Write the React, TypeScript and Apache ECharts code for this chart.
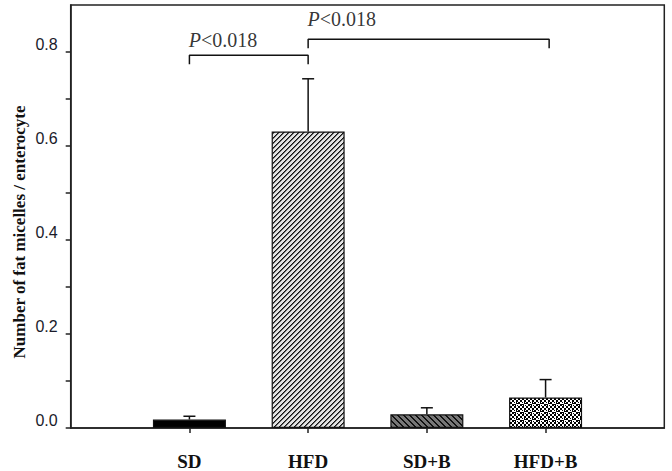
import React, { useEffect, useRef } from "react";
import * as echarts from "echarts";

const categories = ["SD", "HFD", "SD+B", "HFD+B"];
const positions = [1, 2, 3, 4];
const means = [0.018, 0.631, 0.029, 0.065];
const upperErrors = [0.025, 0.743, 0.043, 0.103];
const yLabelValues = [0, 0.2, 0.4, 0.6, 0.8];
const yTickValues = [0, 0.1, 0.2, 0.3, 0.4, 0.5, 0.6, 0.7, 0.8];
const yAxisTitle = "Number of fat micelles / enterocyte";
const bracket1 = [[1, 0.774], [1, 0.793], [2, 0.793], [2, 0.774]];
const bracket2 = [[2, 0.808], [2, 0.827], [4.03, 0.827], [4.03, 0.808]];
const pLabelPoints = [[0.99, 0.826], [1.99, 0.871]];
const pValueText = "<0.018";

function makePattern(w: number, h: number, fn: (x: number, y: number) => string) {
  const c = document.createElement("canvas");
  c.width = w;
  c.height = h;
  const ctx = c.getContext("2d")!;
  for (let y = 0; y < h; y++) {
    for (let x = 0; x < w; x++) {
      ctx.fillStyle = fn(x, y);
      ctx.fillRect(x, y, 1, 1);
    }
  }
  return { image: c.toDataURL(), repeat: "repeat", imageWidth: w, imageHeight: h } as any;
}

export default function App() {
  const ref = useRef<HTMLDivElement>(null);
  useEffect(() => {
    if (!ref.current) return;
    const chart = echarts.init(ref.current, undefined, { renderer: "svg" });

    const fills = [
      "#000000",
      makePattern(5, 5, (x, y) => ((x + y) % 5 === 0 ? "#111111" : (x + y) % 5 === 1 ? "#666666" : "#e4e4e4")),
      makePattern(6, 6, (x, y) => ((x - y + 12) % 6 <= 1 ? "#111111" : "#777777")),
      makePattern(8, 8, (x, y) => {
        const a = ((x >> 1) + (y >> 1)) % 2 === 0;
        const d = (Math.abs(x - 3.5) + Math.abs(y - 3.5)) < 2.5;
        return a !== d ? "#000000" : "#ffffff";
      }),
    ];

    const serif = "'Liberation Serif', 'Times New Roman', serif";
    const sans = "'Liberation Sans', Arial, sans-serif";

    chart.setOption({
      animation: false,
      backgroundColor: "#ffffff",
      grid: {
        left: 70.7,
        right: 7.7,
        top: 5,
        bottom: 39.3,
        show: true,
        borderColor: "#222222",
        borderWidth: 1.5,
        backgroundColor: "transparent",
      },
      graphic: [
        {
          type: "text",
          x: 19,
          y: 232,
          rotation: Math.PI / 2,
          style: {
            text: yAxisTitle,
            align: "center",
            verticalAlign: "middle",
            fontFamily: serif,
            fontWeight: "bold",
            fontSize: 17,
            fill: "#111111",
          },
        },
      ],
      xAxis: {
        type: "value",
        min: 0,
        max: 5,
        interval: 1,
        splitLine: { show: false },
        axisLine: { show: true, lineStyle: { color: "#222222", width: 1.5 } },
        axisTick: { show: true, customValues: positions, length: 5, lineStyle: { color: "#222222", width: 1.5 } },
        axisLabel: {
          customValues: positions,
          formatter: (v: number) => categories[Math.round(v) - 1] ?? "",
          margin: 24,
          fontFamily: serif,
          fontWeight: "bold",
          fontSize: 19,
          color: "#111111",
        },
      },
      yAxis: {
        type: "value",
        min: 0,
        max: 0.9,
        interval: 0.1,
        splitLine: { show: false },
        axisLine: { show: true, lineStyle: { color: "#222222", width: 1.5 } },
        axisTick: { show: true, customValues: yTickValues, length: 5, lineStyle: { color: "#222222", width: 1.5 } },
        axisLabel: {
          customValues: yLabelValues,
          formatter: (v: number) => v.toFixed(1),
          margin: 13,
          fontFamily: sans,
          fontSize: 16,
          color: "#1a1a2a",
          verticalAlign: "bottom",
        },
      },
      series: [
        {
          type: "bar",
          barWidth: 73,
          data: positions.map((p, i) => ({
            value: [p, means[i]],
            itemStyle: { color: fills[i], borderColor: "#111111", borderWidth: 1.2 },
          })),
          z: 2,
        },
        {
          type: "custom",
          data: positions.map((p, i) => [p, means[i], upperErrors[i]]),
          encode: { x: 0, y: [1, 2] },
          z: 5,
          renderItem: (params: any, api: any) => {
            const x = api.value(0);
            const lo = api.coord([x, api.value(1)]);
            const hi = api.coord([x, api.value(2)]);
            const style = { stroke: "#111111", lineWidth: 1.5 };
            return {
              type: "group",
              children: [
                { type: "line", shape: { x1: lo[0], y1: lo[1], x2: hi[0], y2: hi[1] }, style },
                { type: "line", shape: { x1: hi[0] - 6, y1: hi[1], x2: hi[0] + 6, y2: hi[1] }, style },
              ],
            };
          },
        },
        {
          type: "line",
          data: bracket1,
          symbol: "none",
          lineStyle: { color: "#111111", width: 1.5 },
          z: 5,
        },
        {
          type: "line",
          data: bracket2,
          symbol: "none",
          lineStyle: { color: "#111111", width: 1.5 },
          z: 5,
        },
        {
          type: "scatter",
          data: pLabelPoints,
          symbolSize: 1,
          itemStyle: { color: "transparent" },
          silent: true,
          label: {
            show: true,
            position: "right",
            distance: 0,
            formatter: "{i|P}{n|" + pValueText + "}",
            rich: {
              i: { fontFamily: serif, fontStyle: "italic", fontSize: 20, color: "#000000" },
              n: { fontFamily: serif, fontSize: 20, color: "#000000" },
            },
          },
        },
      ],
    });
    return () => chart.dispose();
  }, []);
  return (
    <div
      ref={ref}
      style={{ position: "absolute", left: 0, top: 0, width: 672, height: 471, background: "#fff" }}
    />
  );
}
